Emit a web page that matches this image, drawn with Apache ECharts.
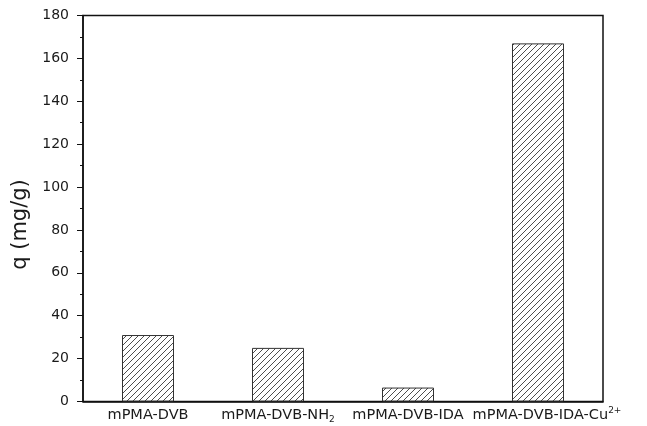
<!DOCTYPE html>
<html>
<head>
<meta charset="utf-8">
<script src="https://cdn.jsdelivr.net/npm/echarts@6/dist/echarts.min.js"></script>
<style>
  html, body { margin: 0; padding: 0; background: #fff; }
  #chart { width: 647px; height: 426px; }
</style>
</head>
<body>
<div id="chart"></div>
<script>
// Adsorption capacity of the modified polymer series
const categories = ['mPMA-DVB', 'mPMA-DVB-NH{sub|2}', 'mPMA-DVB-IDA', 'mPMA-DVB-IDA-Cu{sup|2+}'];
const capacity = [31, 25, 6.5, 167];
const yTicks = [0, 20, 40, 60, 80, 100, 120, 140, 160, 180];

// Diagonal hatch fill for the bars
function hatchPattern() {
  const c = document.createElement('canvas');
  const s = 6;
  c.width = s; c.height = s;
  const ctx = c.getContext('2d');
  ctx.fillStyle = '#ffffff';
  ctx.fillRect(0, 0, s, s);
  ctx.strokeStyle = '#3a3a3a';
  ctx.lineWidth = 0.9;
  ctx.beginPath();
  ctx.moveTo(-1, s + 1); ctx.lineTo(s + 1, -1);
  ctx.moveTo(-1, 1); ctx.lineTo(1, -1);
  ctx.moveTo(s - 1, s + 1); ctx.lineTo(s + 1, s - 1);
  ctx.stroke();
  return c;
}

const chart = echarts.init(document.getElementById('chart'), null, { renderer: 'canvas' });
const font = 'DejaVu Sans, Verdana, sans-serif';
const ink = '#1a1a1a';

// The last, longest label sits a little to the right of its bar
const categoryData = categories.map((name, i) =>
  i === categories.length - 1
    ? { value: name, textStyle: { padding: [0, 0, 0, 18] } }
    : name
);

chart.setOption({
  animation: false,
  backgroundColor: '#ffffff',
  grid: {
    left: 83, right: 44, top: 15.5, bottom: 24.5,
    show: true, borderColor: '#111', borderWidth: 1.5, backgroundColor: 'transparent'
  },
  xAxis: {
    type: 'category',
    data: categoryData,
    boundaryGap: true,
    axisLine: { lineStyle: { color: '#111', width: 1.5 } },
    axisTick: { show: false },
    axisLabel: {
      interval: 0,
      color: ink, fontSize: 14.5, fontFamily: font, margin: 5,
      lineHeight: 18,
      rich: {
        sub: { fontSize: 9, lineHeight: 9, verticalAlign: 'bottom', fontFamily: font, color: ink },
        sup: { fontSize: 9, lineHeight: 9, verticalAlign: 'top', fontFamily: font, color: ink }
      }
    }
  },
  yAxis: {
    type: 'value',
    min: yTicks[0],
    max: yTicks[yTicks.length - 1],
    interval: yTicks[1] - yTicks[0],
    name: 'q (mg/g)',
    nameLocation: 'middle',
    nameGap: 52,
    nameRotate: 90,
    nameTextStyle: { fontSize: 21, fontFamily: font, color: ink, padding: [0, 32, 0, 0] },
    axisLine: { show: true, lineStyle: { color: '#111', width: 1.5 } },
    axisTick: { show: true, inside: false, length: 6, lineStyle: { color: '#111', width: 1 } },
    minorTick: { show: true, splitNumber: 2, length: 3, lineStyle: { color: '#111', width: 1 } },
    splitLine: { show: false },
    axisLabel: { color: ink, fontSize: 14, fontFamily: font, margin: 14 }
  },
  series: [{
    type: 'bar',
    data: capacity,
    barWidth: '40%',
    itemStyle: {
      color: { image: hatchPattern(), repeat: 'repeat' },
      borderColor: '#333',
      borderWidth: 1
    }
  }]
});
</script>
</body>
</html>
